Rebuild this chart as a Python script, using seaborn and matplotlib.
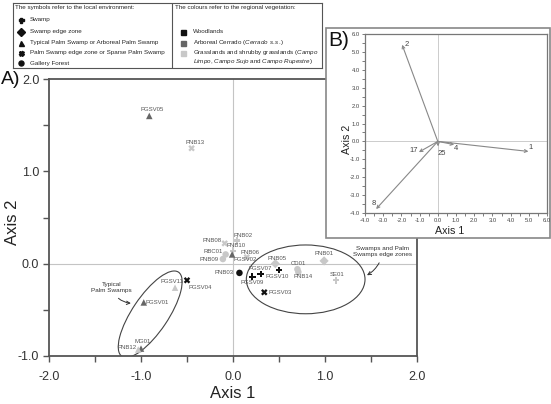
import matplotlib
matplotlib.use('Agg')
import matplotlib.pyplot as plt
from matplotlib.patches import Ellipse, Rectangle
from matplotlib.ticker import MultipleLocator, FormatStrFormatter
import seaborn as sns
import pandas as pd

# site scores on the first two axes (panel A)
sites = ['PGSV05', 'PNB13', 'PNB02', 'PNB08', 'PNB10', 'RBC01', 'PGSV02', 'PNB09',
         'PNB06', 'PNB03', 'PGSV07', 'PGSV09', 'PGSV10', 'PNB05', 'CD01', 'PNB14',
         'PNB01', 'SE01', 'PGSV03', 'PGSV04', 'PGSV11', 'PGSV01', 'MG01', 'PNB12']
axis1 = [-0.91, -0.45, 0.04, -0.09, 0.00, -0.08, -0.01, -0.11,
         0.15, 0.07, 0.30, 0.21, 0.50, 0.46, 0.70, 0.71,
         0.99, 1.12, 0.34, -0.50, -0.63, -0.97, -1.00, -1.03]
axis2 = [1.60, 1.25, 0.25, 0.22, 0.14, 0.10, 0.10, 0.05,
         0.07, -0.10, -0.11, -0.14, -0.07, 0.00, -0.06, -0.09,
         0.03, -0.18, -0.31, -0.18, -0.26, -0.42, -0.92, -0.93]
environment = ['palm', 'edge', 'swamp', 'edge', 'swamp', 'gallery', 'palm', 'gallery',
               'edge', 'gallery', 'swamp', 'swamp', 'swamp', 'swamp_edge', 'gallery', 'gallery',
               'swamp_edge', 'swamp', 'edge', 'edge', 'palm', 'palm', 'palm', 'palm']
vegetation = ['arboreal', 'grass', 'grass', 'grass', 'grass', 'grass', 'arboreal', 'grass',
              'grass', 'wood', 'wood', 'wood', 'wood', 'grass', 'grass', 'grass',
              'grass', 'grass', 'wood', 'wood', 'grass', 'arboreal', 'arboreal', 'grass']

# variable vectors (panel B)
variables = ['1', '2', '4', '8', '17', '25']
load1 = [4.98, -1.96, 0.90, -3.39, -1.04, 0.02]
load2 = [-0.56, 5.40, -0.18, -3.78, -0.60, -0.28]

env_markers = {'swamp': 'P', 'swamp_edge': 'D', 'palm': '^', 'edge': 'X', 'gallery': 'o'}
veg_colors = {'wood': '#111111', 'arboreal': '#666666', 'grass': '#c8c8c8'}

# label offsets in points (dx, dy, ha)
site_label = {
    'PGSV05': (2, 4.5, 'center'), 'PNB13': (2.5, 4, 'center'), 'PNB02': (-2, 4, 'left'),
    'PNB08': (-2, 2, 'right'), 'PNB10': (2, 3.5, 'center'), 'RBC01': (-2, 2, 'right'),
    'PGSV02': (1, -3.5, 'left'), 'PNB09': (-3, 0, 'right'), 'PNB06': (2, 3.5, 'center'),
    'PNB03': (-4, 0, 'right'), 'PGSV07': (0, 4, 'center'), 'PGSV09': (0, -4.5, 'center'),
    'PGSV10': (-1, -4.3, 'center'), 'PNB05': (1, 3.5, 'center'), 'CD01': (0.5, 4, 'center'),
    'PNB14': (3.5, -3, 'center'), 'PNB01': (0, 5, 'center'), 'SE01': (1, 4, 'center'),
    'PGSV03': (3, 0, 'left'), 'PGSV04': (1, -5, 'left'), 'PGSV11': (-2.4, 4.3, 'center'),
    'PGSV01': (1.5, 0, 'left'), 'MG01': (1, 5, 'center'), 'PNB12': (-1, 1.5, 'right'),
}
var_label = {'1': (0, 3, 'left'), '2': (1.5, 0.5, 'left'), '4': (1.2, -3, 'center'),
             '17': (-1, 1, 'right'), '25': (2.4, -5, 'center'), '8': (-0.5, 4, 'right')}

sns.set_style('white')
plt.rcParams['font.family'] = ['Liberation Sans', 'DejaVu Sans']
plt.rcParams['mathtext.fontset'] = 'custom'
plt.rcParams['mathtext.rm'] = 'Liberation Sans'
plt.rcParams['mathtext.it'] = 'Liberation Sans:italic'

df = pd.DataFrame({'site': sites, 'axis1': axis1, 'axis2': axis2,
                   'environment': environment, 'vegetation': vegetation})

W, H = 551, 404
fig = plt.figure(figsize=(W / 100, H / 100), dpi=100)
fig.patch.set_facecolor('white')

# ---- panel A ----
ax = fig.add_axes([49 / W, 1 - 356 / H, 368 / W, 277 / H])
ax.axvline(0, color='#c4c4c4', lw=0.8, zorder=0)
ax.axhline(0, color='#c4c4c4', lw=0.8, zorder=0)
sns.scatterplot(data=df, x='axis1', y='axis2', hue='vegetation', style='environment',
                palette=veg_colors, markers=env_markers, s=22, linewidth=0,
                legend=False, ax=ax, zorder=3)
for name, x, y in zip(sites, axis1, axis2):
    dx, dy, ha = site_label[name]
    ax.annotate(name, (x, y), xytext=(dx, dy), textcoords='offset points',
                ha=ha, va='center', fontsize=4.3, color='#555555', zorder=4)

ax.add_patch(Ellipse((-0.90, -0.548), 1.1, 0.39, angle=56, fill=False,
                     edgecolor='#444444', lw=0.8))
ax.add_patch(Ellipse((0.79, -0.17), 1.29, 0.745, angle=0, fill=False,
                     edgecolor='#444444', lw=0.8))
ax.annotate('Typical\nPalm Swamps', xy=(-1.08, -0.43), xytext=(-1.32, -0.26),
            ha='center', va='center', fontsize=4.6, color='#333333',
            arrowprops=dict(arrowstyle='->', color='#333333', lw=0.7,
                            connectionstyle='arc3,rad=0.35', mutation_scale=6))
ax.annotate('Swamps and Palm\nSwamps edge zones', xy=(1.43, -0.14), xytext=(1.63, 0.13),
            ha='center', va='center', fontsize=4.6, color='#333333',
            arrowprops=dict(arrowstyle='->', color='#333333', lw=0.7,
                            connectionstyle='arc3,rad=-0.25', mutation_scale=6))

ax.set_xlim(-2, 2)
ax.set_ylim(-1, 2)
ax.xaxis.set_major_locator(MultipleLocator(1.0))
ax.xaxis.set_minor_locator(MultipleLocator(0.5))
ax.yaxis.set_major_locator(MultipleLocator(1.0))
ax.yaxis.set_minor_locator(MultipleLocator(0.5))
ax.xaxis.set_major_formatter(FormatStrFormatter('%.1f'))
ax.yaxis.set_major_formatter(FormatStrFormatter('%.1f'))
ax.tick_params(which='both', bottom=True, left=True, direction='out', length=4,
               width=1.0, color='#555555', labelsize=9, labelcolor='#333333')
ax.tick_params(axis='x', pad=7)
ax.tick_params(axis='y', pad=3)
for side, sp in ax.spines.items():
    sp.set_color('#555555')
    sp.set_linewidth(1.3)
ax.set_xlabel('Axis 1', fontsize=12, color='#222222')
ax.set_ylabel('Axis 2', fontsize=12, color='#222222')
ax.xaxis.set_label_coords(0.5, -0.11)
ax.yaxis.set_label_coords(-0.079, 0.484)
fig.text(1 / W, 1 - 79 / H, 'A)', fontsize=14, va='center', ha='left', color='#111111')

# ---- frame and panel B ----
fig.add_artist(Rectangle((326 / W, 1 - 238 / H), 224 / W, 210 / H, transform=fig.transFigure,
                         facecolor='white', edgecolor='#888888', lw=1.2, zorder=1))
axb = fig.add_axes([365 / W, 1 - 213 / H, 182 / W, 179 / H], zorder=2)
axb.axvline(0, color='#cccccc', lw=0.7, zorder=0)
axb.axhline(0, color='#cccccc', lw=0.7, zorder=0)
for name, x, y in zip(variables, load1, load2):
    axb.annotate('', xy=(x, y), xytext=(0, 0),
                 arrowprops=dict(arrowstyle='->', color='#888888', lw=0.8,
                                 shrinkA=0, shrinkB=0, mutation_scale=5))
    dx, dy, ha = var_label[name]
    axb.annotate(name, (x, y), xytext=(dx, dy), textcoords='offset points',
                 ha=ha, va='center', fontsize=5.5, color='#444444')
axb.set_xlim(-4, 6)
axb.set_ylim(-4, 6)
for a in (axb.xaxis, axb.yaxis):
    a.set_major_locator(MultipleLocator(1.0))
    a.set_minor_locator(MultipleLocator(0.5))
    a.set_major_formatter(FormatStrFormatter('%.1f'))
axb.tick_params(which='both', bottom=True, left=True, direction='out', length=2,
                width=0.6, color='#666666', labelsize=4.2, labelcolor='#444444', pad=1.5)
for sp in axb.spines.values():
    sp.set_color('#777777')
    sp.set_linewidth(0.9)
axb.set_xlabel('Axis 1', fontsize=7.7, color='#222222')
axb.set_ylabel('Axis 2', fontsize=7.7, color='#222222')
axb.xaxis.set_label_coords(0.465, -0.07)
axb.yaxis.set_label_coords(-0.073, 0.413)
fig.text(328 / W, 1 - 40 / H, 'B)', fontsize=15, va='center', ha='left', color='#111111',
         zorder=3)

# ---- legend box ----
axl = fig.add_axes([13 / W, 1 - 68 / H, 309 / W, 65.3 / H], zorder=2)
axl.set_xlim(13, 322)
axl.set_ylim(68, 2.7)
axl.set_xticks([])
axl.set_yticks([])
for sp in axl.spines.values():
    sp.set_color('#555555')
    sp.set_linewidth(0.8)
axl.axvline(171.7, color='#555555', lw=0.8)
fs = 4.5
axl.text(15, 7.7, 'The symbols refer to the local environment:', va='center', fontsize=fs)
sym_rows = [('P', 'Swamp'), ('D', 'Swamp edge zone'),
            ('^', 'Typical Palm Swamp or Arboreal Palm Swamp'),
            ('X', 'Palm Swamp edge zone or Sparse Palm Swamp'), ('o', 'Gallery Forest')]
for (m, txt), yy in zip(sym_rows, [20, 31.7, 42.7, 52.7, 63.3]):
    axl.plot([20.7], [yy], marker=m, color='#111111', markersize=3.6, linestyle='none')
    axl.text(30, yy, txt, va='center', fontsize=fs)
axl.text(175, 7.7, 'The colours refer to the regional vegetation:', va='center', fontsize=fs)
col_rows = [('wood', 'Woodlands'), ('arboreal', r'Arboreal Cerrado ($\it{Cerrado\ s.s.}$)'),
            ('grass', r'Grasslands and shrubby grasslands ($\it{Campo}$')]
for (k, txt), yy in zip(col_rows, [31.7, 42.7, 52.7]):
    axl.plot([182.7], [yy], marker='s', color=veg_colors[k], markersize=3.6, linestyle='none')
    axl.text(192.7, yy, txt, va='center', fontsize=fs)
axl.text(192.7, 61, r'$\it{Limpo}$, $\it{Campo\ Sujo}$ and $\it{Campo\ Rupestre}$)',
         va='center', fontsize=fs)

fig.savefig('out.png', dpi=100)
